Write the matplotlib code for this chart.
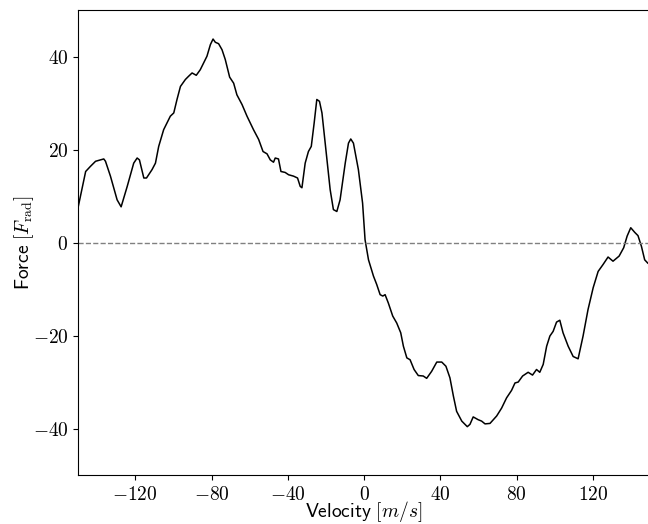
import numpy as np
import matplotlib
matplotlib.use("Agg")
import matplotlib.pyplot as plt
from matplotlib.ticker import FuncFormatter

plt.rcParams['mathtext.fontset'] = 'cm'
plt.rcParams['font.family'] = ['DejaVu Sans']

# velocity [m/s] and force [F_rad]
velocity = [-150, -146, -143.5, -140.8, -136.5, -135.6, -133, -129.5, -127.4, -124.2,
            -120.8, -119, -117.8, -115.5, -114.1, -111.2, -109.4, -107.7, -105.1, -101.6,
            -99.8, -98.1, -96.3, -93.7, -92, -90.2, -88, -85.9, -82.4, -80.6,
            -79.2, -78, -76.3, -74.5, -72.8, -70.5, -68.4, -66.7, -64, -61.4,
            -58, -55.3, -53, -50.9, -49.2, -47.5, -46.6, -44.9, -43.6, -41.4,
            -39.6, -37, -34.9, -33.5, -32.6, -30.9, -29.2, -27.7, -26.2, -24.8,
            -23.4, -22.1, -20.4, -17.8, -16.1, -14.3, -12.6, -9.9, -8.2, -7.0,
            -5.6, -3.0, -0.8, 0.5, 2.3, 4.9, 6.6, 8.4, 9.8, 11,
            12.7, 15.0, 17.1, 19.2, 20.6, 22.4, 24.1, 26.2, 28.4, 31.0,
            32.8, 35.4, 38.1, 40.7, 42.9, 45.0, 46.8, 48.5, 51.2, 54.1,
            55.5, 57.2, 59.8, 61.6, 63.4, 66.0, 69.5, 72.1, 74.7, 77.3,
            79.1, 80.8, 83.1, 86.0, 88.3, 90.4, 92.1, 93.9, 95.7, 97.4,
            99.1, 100.9, 102.6, 104.3, 107, 109.6, 112.2, 114.8, 117.4, 120.1,
            122.7, 125.3, 127.9, 130.5, 133.7, 136.1, 137.9, 139.8, 141.9, 143.6,
            145.4, 147.1, 148.7]
force = [7.5, 15.3, 16.4, 17.5, 18.0, 17.5, 14.3, 9.2, 7.7, 12.1,
         17.1, 18.2, 17.8, 13.9, 13.9, 15.7, 17.1, 20.7, 24.3, 27.2,
         27.9, 30.8, 33.6, 35.1, 35.8, 36.5, 36.0, 37.2, 40.1, 42.6,
         43.8, 43.1, 42.8, 41.5, 39.4, 35.6, 34.3, 31.8, 29.7, 27.2,
         24.3, 22.2, 19.6, 19.1, 17.8, 17.3, 18.2, 18.0, 15.3, 15.1,
         14.6, 14.3, 13.9, 12.1, 11.8, 17.1, 19.6, 20.7, 25.7, 30.8,
         30.4, 27.9, 21.4, 11.4, 7.1, 6.7, 9.2, 17.1, 21.4, 22.3,
         21.4, 15.7, 8.5, 0.6, -3.7, -7.2, -9.0, -11.2, -11.5, -11.2,
         -13.0, -15.8, -17.3, -19.4, -22.3, -24.8, -25.2, -27.3, -28.6, -28.7,
         -29.2, -27.7, -25.7, -25.7, -26.6, -29.1, -33.0, -36.3, -38.4, -39.6,
         -39.1, -37.5, -38.1, -38.4, -39.0, -38.9, -37.3, -35.6, -33.4, -31.8,
         -30.2, -30.0, -28.7, -27.9, -28.5, -27.3, -27.9, -26.2, -22.3, -20.1,
         -19.1, -17.1, -16.7, -19.4, -22.3, -24.5, -25.0, -20.1, -14.4, -9.7,
         -6.2, -4.7, -3.1, -4.0, -2.9, -1.1, 1.4, 3.2, 2.2, 1.5,
         -0.8, -3.7, -4.4]

x_ticks = [-120, -80, -40, 0, 40, 80, 120]
y_ticks = [-40, -20, 0, 20, 40]

fig = plt.figure(figsize=(6.48, 5.24), dpi=100)
ax = fig.add_axes([0.1204, 0.0935, 0.883, 0.887])

ax.plot(velocity, force, color='black', linewidth=1.1)
ax.axhline(0, color='gray', linestyle='--', linewidth=1.0)

ax.set_xlim(-150, 150)
ax.set_ylim(-50, 50)
ax.set_xticks(x_ticks)
ax.set_yticks(y_ticks)
fmt = FuncFormatter(lambda v, pos: r"$%d$" % v)
ax.xaxis.set_major_formatter(fmt)
ax.yaxis.set_major_formatter(fmt)
ax.tick_params(labelsize=14)

ax.set_xlabel(r"$\mathsf{Velocity}\ [m/s]$", fontsize=14)
ax.set_ylabel(r"$\mathsf{Force}\ [F_{\rm rad}]$", fontsize=14)
ax.xaxis.set_label_coords(0.5, -0.052)
ax.yaxis.set_label_coords(-0.074, 0.5)

fig.savefig("out.png", dpi=100)
